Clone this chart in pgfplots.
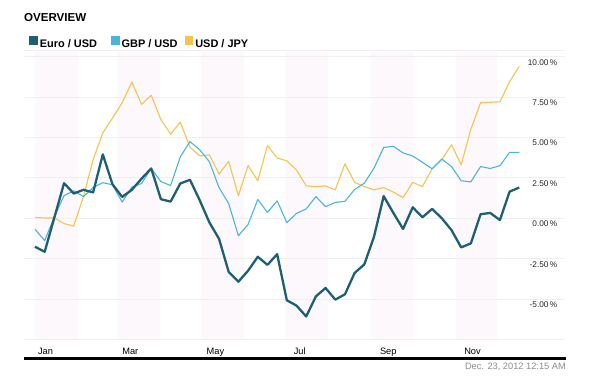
\documentclass[border=0pt]{standalone}
\usepackage{fontspec}
\setmainfont{Liberation Sans}
\usepackage{pgfplots}
\pgfplotsset{compat=1.18}
\usepackage{pgfplotstable}
\definecolor{euro}{HTML}{1F5F74}
\definecolor{gbp}{HTML}{48B6DC}
\definecolor{jpy}{HTML}{F7C251}
\definecolor{band}{HTML}{FDF8FC}
\definecolor{gridc}{HTML}{EFEFEF}
\pgfplotstableread{
i euro gbp jpy
0 -1.76 -0.68 0.05
1 -2.07 -1.38 0.02
2 0.05 0.10 0.02
3 2.17 1.40 -0.33
4 1.53 1.70 -0.48
5 1.76 1.34 1.34
6 1.60 1.90 3.62
7 3.95 2.20 5.28
8 2.10 2.07 6.20
9 1.32 1.00 7.14
10 1.76 1.93 8.42
11 2.45 2.15 7.04
12 3.08 3.08 7.61
13 1.18 2.27 6.10
14 1.03 2.02 5.20
15 2.15 3.80 5.95
16 2.38 4.74 4.40
17 1.12 4.24 3.86
18 -0.25 3.50 3.92
19 -1.27 1.90 2.74
20 -3.32 0.90 3.52
21 -3.92 -1.08 1.39
22 -3.24 -0.38 3.26
23 -2.38 1.16 2.32
24 -2.88 0.36 4.49
25 -2.22 1.08 3.73
26 -5.07 -0.27 3.55
27 -5.40 0.30 2.98
28 -6.07 0.58 2.01
29 -4.83 1.34 1.95
30 -4.31 0.72 2.00
31 -5.03 0.98 1.76
32 -4.70 1.05 3.37
33 -3.38 1.78 2.22
34 -2.85 2.17 1.96
35 -1.14 3.10 1.76
36 1.37 4.38 1.90
37 0.33 4.45 1.62
38 -0.66 4.04 1.28
39 0.68 3.85 2.22
40 0.06 3.46 1.96
41 0.58 3.06 3.06
42 0.00 3.66 3.62
43 -0.73 3.20 4.55
44 -1.80 2.32 3.31
45 -1.55 2.25 5.50
46 0.25 3.20 7.14
47 0.33 3.08 7.17
48 -0.11 3.25 7.20
49 1.65 4.07 8.45
50 1.90 4.07 9.40
}\datatable
\begin{document}
\begin{tikzpicture}
\path (0bp,0bp) rectangle (609bp,389bp);
\node[anchor=west, inner sep=0pt, font=\bfseries\fontsize{11.6}{14}\selectfont] at (24bp,371.3bp) {OVERVIEW};
\draw[gridc, line width=0.8bp] (24bp,338.3bp) -- (565bp,338.3bp);
\node[anchor=east, inner sep=0pt, text=black!45, font=\fontsize{9.3}{11}\selectfont] at (566bp,22.6bp) {Dec. 23, 2012 12:15 AM};
\begin{axis}[
  set layers=standard,
  at={(24bp,49.4bp)}, anchor=south west,
  scale only axis, width=541bp, height=287.6bp,
  xmin=-1.136, xmax=54.72, ymin=-7.5, ymax=10.28,
  axis line style={draw=none}, tick style={draw=none}, major tick length=0pt,
  ytick={-7.5,-5,-2.5,0,2.5,5,7.5,10},
  yticklabels={,-5.00\,\%,-2.50\,\%,0.00\,\%,2.50\,\%,5.00\,\%,7.50\,\%,10.00\,\%},
  yticklabel pos=right,
  yticklabel style={anchor=north east, inner sep=0pt, xshift=-7.5bp, yshift=-2.6bp, font=\fontsize{8.3}{10}\selectfont, text=black!85},
  ymajorgrids, major grid style={gridc, line width=0.7bp},
  xtick={0.3,9.0,17.7,26.7,35.6,44.3},
  xticklabels={Jan,Mar,May,Jul,Sep,Nov},
  xticklabel style={anchor=base west, inner sep=0pt, yshift=-14.4bp, font=\fontsize{9.3}{11}\selectfont},
  no markers,
  legend columns=-1,
  legend image code/.code={\fill[#1] (0bp,0bp) rectangle (7.5bp,7.7bp);},
  legend style={draw=none, fill=none, inner sep=0pt, outer sep=0pt,
    at={(axis description cs:0.0098,1.0337)}, anchor=west,
    font=\bfseries\fontsize{11}{13}\selectfont, nodes={inner sep=0pt}, column sep=0pt},
]
\addplot[forget plot, fill=band, draw=none, on layer=axis background] coordinates {(0,-7.5) (4.43,-7.5) (4.43,10.28) (0,10.28)} -- cycle;
\addplot[forget plot, fill=band, draw=none, on layer=axis background] coordinates {(8.43,-7.5) (12.86,-7.5) (12.86,10.28) (8.43,10.28)} -- cycle;
\addplot[forget plot, fill=band, draw=none, on layer=axis background] coordinates {(17.14,-7.5) (21.57,-7.5) (21.57,10.28) (17.14,10.28)} -- cycle;
\addplot[forget plot, fill=band, draw=none, on layer=axis background] coordinates {(25.86,-7.5) (30.29,-7.5) (30.29,10.28) (25.86,10.28)} -- cycle;
\addplot[forget plot, fill=band, draw=none, on layer=axis background] coordinates {(34.71,-7.5) (39,-7.5) (39,10.28) (34.71,10.28)} -- cycle;
\addplot[forget plot, fill=band, draw=none, on layer=axis background] coordinates {(43.43,-7.5) (47.71,-7.5) (47.71,10.28) (43.43,10.28)} -- cycle;
\addlegendimage{color=euro}
\addlegendentry{\hspace{2.6bp}\makebox[71.3bp][l]{Euro / USD}}
\addlegendimage{color=gbp}
\addlegendentry{\hspace{2.6bp}\makebox[63.2bp][l]{GBP / USD}}
\addlegendimage{color=jpy}
\addlegendentry{\hspace{2.6bp}USD / JPY}
\addplot[forget plot, color=jpy, line width=1.1bp, line join=round] table[x=i, y=jpy] {\datatable};
\addplot[forget plot, color=gbp, line width=1.1bp, line join=round] table[x=i, y=gbp] {\datatable};
\addplot[forget plot, color=euro, line width=2.3bp, line join=round] table[x=i, y=euro] {\datatable};
\end{axis}
\draw[black, line width=2.6bp] (24bp,30.3bp) -- (566bp,30.3bp);
\end{tikzpicture}
\end{document}
